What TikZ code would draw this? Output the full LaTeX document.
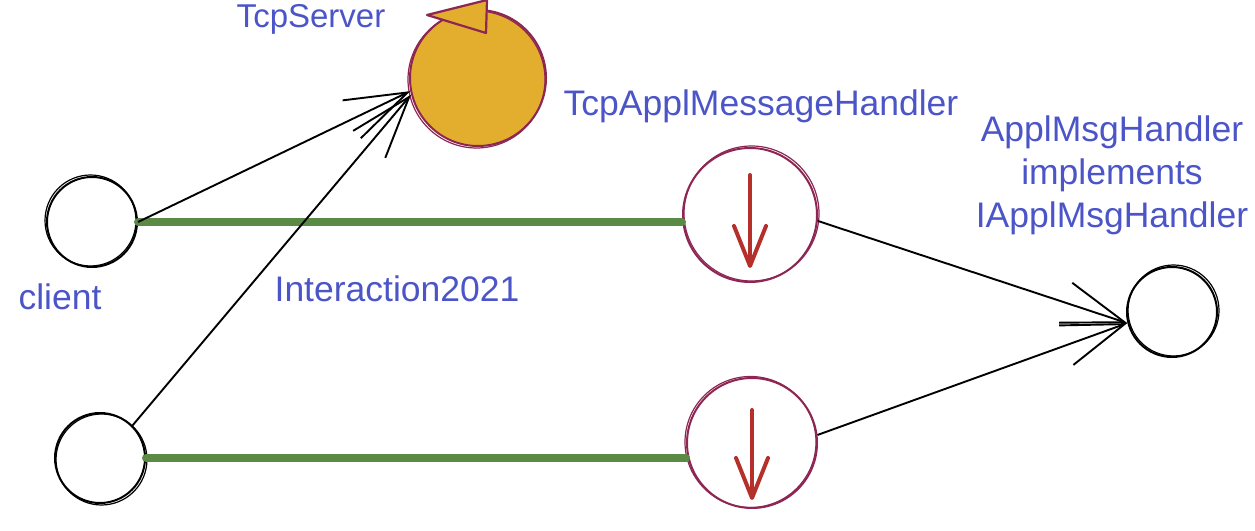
\documentclass[tikz,border=0pt]{standalone}
\usepackage{fontspec}
\setmainfont{Liberation Sans}
\usetikzlibrary{arrows.meta}
\definecolor{lbl}{HTML}{4B55C8}
\definecolor{maroon}{HTML}{8E2653}
\definecolor{gold}{HTML}{E3AE2E}
\definecolor{grn}{HTML}{5B8A45}
\definecolor{redarr}{HTML}{B5302A}
\tikzset{
  blk/.style={circle,draw=black,line width=2pt,inner sep=0pt,minimum size=#1},
  mar/.style={circle,draw=maroon,line width=2pt,inner sep=0pt,minimum size=#1},
  lab/.style={text=lbl,font=\fontsize{35.5}{43}\selectfont,align=center,inner sep=0pt},
  conn/.style={line width=1.9pt,-{Straight Barb[length=62pt,width=42pt]}},
  greenl/.style={grn,line width=8pt,line cap=round},
  downarr/.style={redarr,line width=4pt,line cap=round,-{Straight Barb[length=40pt,width=32pt,round]}},
  sk/.style={line width=1.2pt}
}
\begin{document}
\begin{tikzpicture}[x=1pt,y=1pt]
\useasboundingbox (0,0) rectangle (1255,530);
% nodes
\node[blk=90pt] (c1) at (92,308) {};
\node[blk=90pt] (c2) at (100,72) {};
\node[circle,draw=maroon,fill=gold,line width=2pt,inner sep=0pt,minimum size=136pt] (srv) at (478,452) {};
\node[mar=134pt] (h1) at (750,315) {};
\node[mar=130pt] (h2) at (752,87) {};
\node[blk=90pt] (ah) at (1172,218) {};
% sketch strokes
\draw[sk] ([shift={(-1.5,1.5)}]c1.center) circle (45.5);
\draw[sk] ([shift={(1.5,-1.5)}]c2.center) circle (45.5);
\draw[sk,maroon] ([shift={(-1.5,-1.5)}]srv.center) circle (68.5);
\draw[sk,maroon] ([shift={(1.5,1.5)}]h1.center) circle (67.5);
\draw[sk,maroon] ([shift={(-1.5,1)}]h2.center) circle (65.5);
\draw[sk] ([shift={(1.5,1.5)}]ah.center) circle (45.5);
% triangle on server
\coordinate (t1) at (427,515);
\coordinate (t2) at (487,530);
\coordinate (t3) at (486,497);
\draw[maroon,fill=gold,line width=2.2pt,line join=round] (t1) -- (t2) -- (t3) -- cycle;
% green lines
\draw[greenl] (c1.east) -- (c1.east -| h1.west);
\draw[greenl] (c2.east) -- (c2.east -| h2.west);
% black arrows
\draw[conn] (c1.east) -- (srv.191);
\draw[conn] (c2.45) -- (srv.194);
\draw[conn] (h1.-5) -- (ah.194);
\draw[conn] (h2.7) -- (ah.194);
% red arrows
\coordinate (a1s) at (750,355);
\coordinate (a1e) at (750,262);
\coordinate (a2s) at (752,120);
\coordinate (a2e) at (752,30);
\draw[downarr] (a1s) -- (a1e);
\draw[downarr] (a2s) -- (a2e);
% labels
\node[lab,font=\fontsize{33}{40}\selectfont] (lsrv) at (311,511) {TcpServer};
\node[lab] (lhandler) at (761,424) {TcpApplMessageHandler};
\node[lab] (lappl) at (1112,355) {ApplMsgHandler\\implements\\IApplMsgHandler};
\node[lab] (lclient) at (60,233) {client};
\node[lab] (linter) at (397,241) {Interaction2021};
\end{tikzpicture}
\end{document}
